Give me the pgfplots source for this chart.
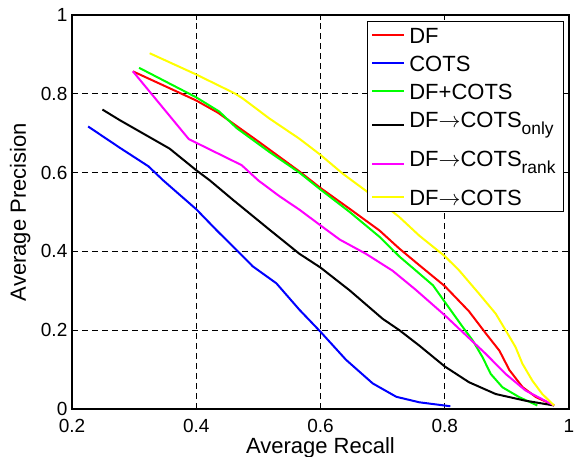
\documentclass[border=0pt]{standalone}
\usepackage{pgfplots}
\pgfplotsset{compat=1.18}
\usepackage{fontspec}
\setmainfont{Liberation Sans}
\definecolor{mred}{rgb}{1,0,0}
\definecolor{mblue}{rgb}{0,0,1}
\definecolor{mgreen}{rgb}{0,1,0}
\definecolor{mmagenta}{rgb}{1,0,1}
\definecolor{myellow}{rgb}{1,1,0}
\newcommand\sub[1]{\raisebox{-3.5pt}{\fontsize{8.7}{9}\selectfont #1}}

\begin{document}
\begin{tikzpicture}
\useasboundingbox (-36pt,-23.5pt) rectangle (251pt,204.5pt);
\begin{axis}[
    scale only axis,
    width=248.5pt, height=197pt,
    xmin=0.2, xmax=1, ymin=0, ymax=1,
    xtick={0.2,0.4,0.6,0.8,1},
    ytick={0,0.2,0.4,0.6,0.8,1},
    grid=major,
    major grid style={black, line width=0.4pt, dash pattern=on 3pt off 2pt},
    tick align=inside,
    tick pos=both,
    major tick length=2.5pt,
    tick style={black, line width=0.5pt},
    axis line style={line width=0.8pt},
    /pgf/number format/assume math mode=true,
    tick label style={font=\fontsize{9.5}{11}\selectfont},
    xticklabel style={yshift=-1.5pt},
    yticklabel style={xshift=1.2pt},
    xlabel={Average Recall},
    ylabel={Average Precision},
    label style={font=\fontsize{11}{13}\selectfont},
    xlabel style={at={(axis description cs:0.5,-0.099)}, anchor=center},
    ylabel style={at={(axis description cs:-0.104,0.5)}, anchor=center, rotate=0},
    every axis plot/.append style={line width=1pt},
    legend style={at={(0.99,0.985)}, anchor=north east, draw=black, line width=0.5pt,
        font=\fontsize{11}{13}\selectfont, cells={anchor=west},
        inner xsep=2pt, inner ysep=1pt, row sep=2pt},
    legend image code/.code={\draw[#1] (0pt,0pt) -- (16pt,0pt);},
]
% DF
\addplot[mred] coordinates {
(0.298,0.857) (0.400,0.783) (0.435,0.752) (0.500,0.679) (0.566,0.603)
(0.600,0.561) (0.647,0.508) (0.695,0.453) (0.727,0.407) (0.759,0.365)
(0.800,0.312) (0.839,0.248) (0.866,0.192) (0.888,0.148) (0.904,0.099)
(0.925,0.056) (0.947,0.030) (0.976,0.009)};
\addlegendentry[text height=8pt, text depth=0pt, inner ysep=2pt]{DF}
% COTS
\addplot[mblue] coordinates {
(0.226,0.717) (0.277,0.663) (0.323,0.616) (0.347,0.580) (0.400,0.507)
(0.432,0.455) (0.467,0.400) (0.491,0.362) (0.529,0.319) (0.566,0.252)
(0.600,0.196) (0.641,0.125) (0.684,0.065) (0.722,0.031) (0.759,0.017)
(0.809,0.007)};
\addlegendentry[text height=8pt, text depth=0pt, inner ysep=2pt]{COTS}
% DF+COTS
\addplot[mgreen] coordinates {
(0.308,0.866) (0.400,0.791) (0.437,0.755) (0.465,0.713) (0.518,0.652)
(0.566,0.600) (0.600,0.557) (0.647,0.500) (0.695,0.437) (0.727,0.387)
(0.753,0.352) (0.781,0.314) (0.800,0.272) (0.829,0.208) (0.845,0.174)
(0.861,0.131) (0.874,0.089) (0.893,0.055) (0.920,0.030) (0.949,0.009)};
\addlegendentry[text height=8pt, text depth=0pt, inner ysep=2pt]{DF+COTS}
% DF->COTS only
\addplot[black] coordinates {
(0.249,0.760) (0.277,0.733) (0.357,0.661) (0.400,0.606) (0.422,0.580)
(0.459,0.531) (0.518,0.455) (0.566,0.394) (0.600,0.359) (0.647,0.301)
(0.700,0.229) (0.727,0.200) (0.759,0.161) (0.800,0.108) (0.839,0.068)
(0.882,0.038) (0.930,0.021) (0.976,0.009)};
\addlegendentry[text height=8pt, text depth=5.5pt, inner ysep=2pt]{DF$\rightarrow$COTS\sub{only}}
% DF->COTS rank
\addplot[mmagenta] coordinates {
(0.298,0.857) (0.388,0.685) (0.473,0.619) (0.500,0.580) (0.534,0.540)
(0.566,0.506) (0.600,0.466) (0.631,0.430) (0.673,0.394) (0.716,0.351)
(0.753,0.303) (0.800,0.238) (0.839,0.180) (0.866,0.140) (0.898,0.089)
(0.930,0.047) (0.976,0.009)};
\addlegendentry[text height=8pt, text depth=5.5pt, inner ysep=2pt]{DF$\rightarrow$COTS\sub{rank}}
% DF->COTS
\addplot[myellow] coordinates {
(0.325,0.903) (0.400,0.849) (0.462,0.801) (0.475,0.788) (0.518,0.737)
(0.566,0.686) (0.600,0.645) (0.636,0.597) (0.679,0.547) (0.727,0.487)
(0.759,0.440) (0.800,0.388) (0.823,0.352) (0.855,0.293) (0.882,0.242)
(0.898,0.200) (0.914,0.157) (0.925,0.115) (0.941,0.072) (0.957,0.038)
(0.976,0.009)};
\addlegendentry[text height=8pt, text depth=0pt, inner ysep=2pt]{DF$\rightarrow$COTS}
\end{axis}
\end{tikzpicture}
\end{document}
